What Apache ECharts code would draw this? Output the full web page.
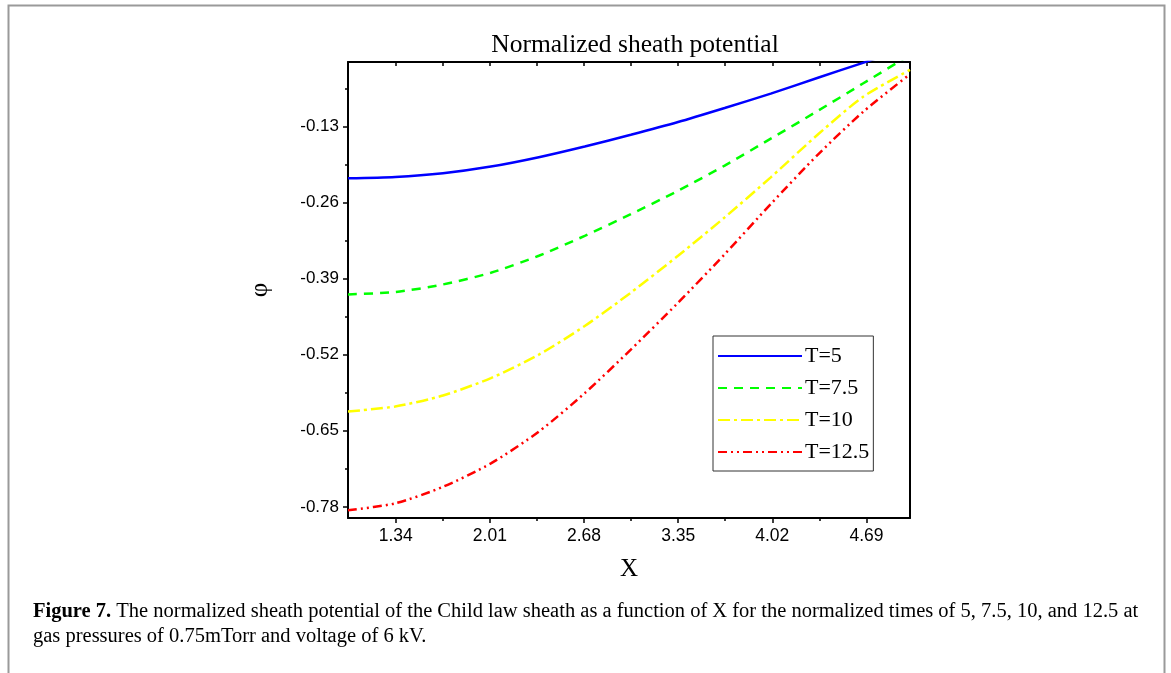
<!DOCTYPE html>
<html>
<head>
<meta charset="utf-8">
<script src="https://cdn.jsdelivr.net/npm/echarts@6/dist/echarts.min.js"></script>
<style>
html,body{margin:0;padding:0;background:#fff;}
#chart{width:1171px;height:673px;}
</style>
</head>
<body>
<div id="chart"></div>
<script>
// ---- data ----
const titleText = 'Normalized sheath potential';
const xName = 'X';
const yName = 'φ';
const xTicks = [1.34, 2.01, 2.68, 3.35, 4.02, 4.69];
const yTicks = [-0.78, -0.65, -0.52, -0.39, -0.26, -0.13];
const xRange = [1.0, 5.0];
const yRange = [-0.799, -0.02];
const seriesNames = ['T=5', 'T=7.5', 'T=10', 'T=12.5'];
const xs = [1.0, 1.336, 1.676, 2.017, 2.358, 2.685, 3.013, 3.349, 3.681, 4.009, 4.35, 4.665, 5.0];
const yT5   = [-0.2186, -0.2163, -0.210, -0.1986, -0.1826, -0.1643, -0.1443, -0.1226, -0.0986, -0.074, -0.0465, -0.0214, 0.006];
const yT75  = [-0.417, -0.413, -0.400, -0.380, -0.351, -0.317, -0.280, -0.240, -0.197, -0.151, -0.1026, -0.0568, -0.008];
const yT10  = [-0.617, -0.6085, -0.5897, -0.560, -0.520, -0.471, -0.414, -0.351, -0.2855, -0.217, -0.1426, -0.0797, -0.0335];
const yT125 = [-0.7857, -0.774, -0.7457, -0.7057, -0.6514, -0.5857, -0.5113, -0.4313, -0.3484, -0.2626, -0.1769, -0.1054, -0.0408];
const captionBold = 'Figure 7.';
const captionLine1 = ' The normalized sheath potential of the Child law sheath as a function of X for the normalized times of 5, 7.5, 10, and 12.5 at';
const captionLine2 = 'gas pressures of 0.75mTorr and voltage of 6 kV.';

// ---- build ----
function mids(a){ const r=[]; for(let i=0;i<a.length-1;i++) r.push((a[i]+a[i+1])/2); return r; }
function pairs(x, y){ return x.map((v,i)=>[v, y[i]]); }
const xMinor = mids(xTicks);
const yMinor = mids(yTicks).concat([yTicks[yTicks.length-1] + (yTicks[1]-yTicks[0])/2]);

const serif = 'Liberation Serif';
const sans = 'Liberation Sans';
const colors = ['#0000ff', '#00ff00', '#ffff00', '#ff0000'];
const dashes = ['solid', [9, 7], [12, 4, 3, 4], [9, 4, 2, 4, 2, 4]];
const ys = [yT5, yT75, yT10, yT125];

const grid = {left: 348, right: 261, top: 62, bottom: 155};
const chart = echarts.init(document.getElementById('chart'), null, {renderer: 'canvas'});

const baseX = {type: 'value', min: xRange[0], max: xRange[1], splitLine: {show: false}};
const baseY = {type: 'value', min: yRange[0], max: yRange[1], splitLine: {show: false}};

chart.setOption({
  animation: false,
  backgroundColor: '#fff',
  title: {
    text: titleText, left: 630, top: 27, textAlign: 'center',
    textStyle: {fontFamily: serif, fontSize: 25.5, fontWeight: 'normal', color: '#000'}
  },
  grid: grid,
  legend: {
    orient: 'vertical', left: 713, top: 336,
    data: seriesNames,
    backgroundColor: '#fff', borderColor: '#333', borderWidth: 1,
    padding: [9, 4, 8, 4], itemWidth: 84, itemHeight: 14, itemGap: 10,
    itemStyle: {opacity: 0},
    textStyle: {fontFamily: serif, fontSize: 22, color: '#000', padding: [0, 0, 0, -2]}
  },
  xAxis: [
    Object.assign({}, baseX, {
      position: 'bottom',
      name: xName, nameLocation: 'middle', nameGap: 39,
      nameTextStyle: {fontFamily: serif, fontSize: 25, color: '#000'},
      axisLine: {show: true, lineStyle: {color: '#000', width: 2}},
      axisTick: {show: true, inside: false, length: 5, customValues: xTicks, lineStyle: {color: '#000', width: 1.5}},
      axisLabel: {show: true, customValues: xTicks, margin: 9, fontFamily: sans, fontSize: 17.5, color: '#000', formatter: v => String(v)}
    }),
    Object.assign({}, baseX, {
      position: 'bottom',
      axisLine: {show: false},
      axisTick: {show: true, inside: false, length: 3, customValues: xMinor, lineStyle: {color: '#000', width: 1.5}},
      axisLabel: {show: false}
    }),
    Object.assign({}, baseX, {
      position: 'top',
      axisLine: {show: true, lineStyle: {color: '#000', width: 2}},
      axisTick: {show: true, inside: true, length: 4, customValues: xTicks.concat(xMinor), lineStyle: {color: '#000', width: 1.5}},
      axisLabel: {show: false}
    })
  ],
  yAxis: [
    Object.assign({}, baseY, {
      position: 'left',
      name: yName, nameLocation: 'middle', nameGap: 75, nameRotate: 90,
      nameTextStyle: {fontFamily: serif, fontSize: 25, color: '#000'},
      axisLine: {show: true, lineStyle: {color: '#000', width: 2}},
      axisTick: {show: true, inside: false, length: 5, customValues: yTicks, lineStyle: {color: '#000', width: 1.5}},
      axisLabel: {show: true, customValues: yTicks, margin: 9, fontFamily: sans, fontSize: 17, color: '#000', formatter: v => String(v)}
    }),
    Object.assign({}, baseY, {
      position: 'left',
      axisLine: {show: false},
      axisTick: {show: true, inside: false, length: 3, customValues: yMinor, lineStyle: {color: '#000', width: 1.5}},
      axisLabel: {show: false}
    }),
    Object.assign({}, baseY, {
      position: 'right',
      axisLine: {show: true, lineStyle: {color: '#000', width: 2}},
      axisTick: {show: false},
      axisLabel: {show: false}
    })
  ],
  series: seriesNames.map((n, i) => ({
    name: n, type: 'line', xAxisIndex: 0, yAxisIndex: 0,
    data: pairs(xs, ys[i]),
    smooth: 0.25, symbol: 'none', clip: true,
    lineStyle: {color: colors[i], width: 2.5, type: dashes[i]},
    itemStyle: {color: colors[i]}
  })),
  graphic: [
    {type: 'rect', shape: {x: 8.5, y: 5.5, width: 1156, height: 700}, style: {fill: 'none', stroke: '#9a9a9a', lineWidth: 2}, silent: true},
    {type: 'text', left: 33, top: 599, style: {
      text: '{b|' + captionBold + '}' + captionLine1 + '\n' + captionLine2,
      rich: {b: {fontFamily: serif, fontSize: 20.5, fontWeight: 'bold', fill: '#000'}},
      fontFamily: serif, fontSize: 20.5, lineHeight: 25, fill: '#000'
    }}
  ]
});
</script>
</body>
</html>
